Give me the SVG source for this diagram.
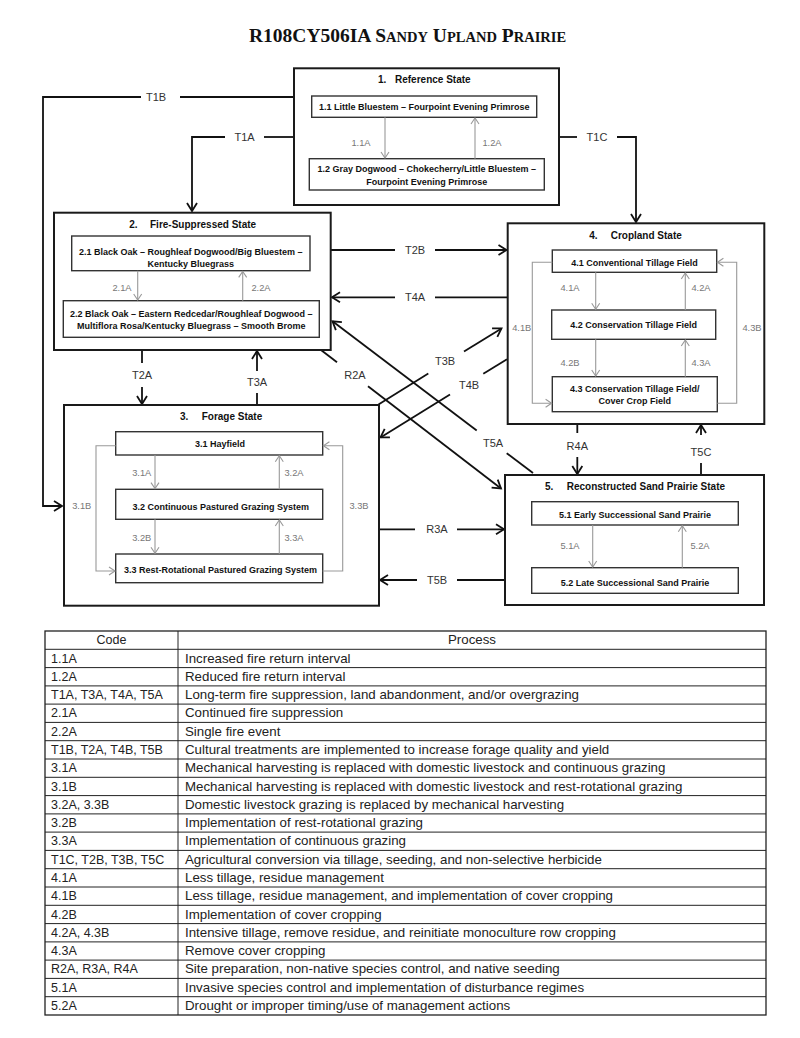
<svg xmlns="http://www.w3.org/2000/svg" width="800" height="1038" viewBox="0 0 800 1038">
<defs>
<style>
.st{fill:#fff;stroke:#1a1a1a;stroke-width:2}
.bx{fill:#fff;stroke:#333;stroke-width:1.4}
.tt{font-family:"Liberation Sans",Arial,sans-serif;font-weight:bold;font-size:10px;fill:#111}
.bt{font-family:"Liberation Sans",Arial,sans-serif;font-weight:bold;font-size:9px;fill:#111;text-anchor:middle}
.cn{fill:none;stroke:#111;stroke-width:1.8}
.cg{fill:none;stroke:#999;stroke-width:1.1}
.cl{font-family:"Liberation Sans",Arial,sans-serif;font-size:11px;fill:#333;text-anchor:middle;dominant-baseline:central}
.gl{font-family:"Liberation Sans",Arial,sans-serif;font-size:9.3px;fill:#777;text-anchor:middle;dominant-baseline:central}
.tb{font-family:"Liberation Sans",Arial,sans-serif;font-size:13.3px;fill:#222}
.tc{font-family:"Liberation Sans",Arial,sans-serif;font-size:12.5px;fill:#222}
.tl{stroke:#222;stroke-width:1}
</style>
<marker id="ah" viewBox="-10 -7 12 14" refX="0" refY="0" markerWidth="12" markerHeight="14" markerUnits="userSpaceOnUse" orient="auto">
<path d="M-8,-5 L0,0 L-8,5" fill="none" stroke="#111" stroke-width="1.8"/>
</marker>
<marker id="ag" viewBox="-8 -5 10 10" refX="0" refY="0" markerWidth="10" markerHeight="10" markerUnits="userSpaceOnUse" orient="auto">
<path d="M-6,-4 L0,0 L-6,4" fill="none" stroke="#999" stroke-width="1.1"/>
</marker>
</defs>
<rect x="0" y="0" width="800" height="1038" fill="#fff"/>

<text x="249" y="42" font-family="'Liberation Serif','Times New Roman',serif" font-weight="bold" font-size="19.5" fill="#111">R108CY506IA <tspan>S</tspan><tspan font-size="14.5">ANDY</tspan> U<tspan font-size="14.5">PLAND</tspan> P<tspan font-size="14.5">RAIRIE</tspan></text>

<g id="connectors">
<!-- T1B -->
<path class="cn" d="M294,97 H180"/>
<path class="cn" d="M141,97 H43 V506 H62" marker-end="url(#ah)"/>
<text class="cl" x="156" y="97">T1B</text>
<!-- T1A -->
<path class="cn" d="M294,137 H264"/>
<path class="cn" d="M225,137 H192 V211" marker-end="url(#ah)"/>
<text class="cl" x="244.5" y="137">T1A</text>
<!-- T1C -->
<path class="cn" d="M559,137 H577"/>
<path class="cn" d="M617,137 H636 V222" marker-end="url(#ah)"/>
<text class="cl" x="597" y="137">T1C</text>
<!-- T2B -->
<path class="cn" d="M331,250 H395"/>
<path class="cn" d="M435,250 H506.5" marker-end="url(#ah)"/>
<text class="cl" x="415" y="250">T2B</text>
<!-- T4A -->
<path class="cn" d="M508,297.3 H435"/>
<path class="cn" d="M395,297.3 H332" marker-end="url(#ah)"/>
<text class="cl" x="415" y="297.3">T4A</text>
<!-- T2A -->
<path class="cn" d="M142,350 V363"/>
<path class="cn" d="M142,387 V404" marker-end="url(#ah)"/>
<text class="cl" x="142" y="375">T2A</text>
<!-- T3A -->
<path class="cn" d="M257,405 V393"/>
<path class="cn" d="M257,371 V351" marker-end="url(#ah)"/>
<text class="cl" x="257" y="382">T3A</text>
<!-- R2A -->
<path class="cn" d="M321,350 L337,362.2"/>
<path class="cn" d="M368,386.2 L501,488.5" marker-end="url(#ah)"/>
<text class="cl" x="355" y="375">R2A</text>
<!-- T5A -->
<path class="cn" d="M533,473 L506.7,453.2"/>
<path class="cn" d="M476.7,430.5 L332.5,321.3" marker-end="url(#ah)"/>
<text class="cl" x="493" y="443">T5A</text>
<!-- T3B -->
<path class="cn" d="M378.5,404.5 L428.3,373.5"/>
<path class="cn" d="M464,351.5 L501.5,328.4" marker-end="url(#ah)"/>
<text class="cl" x="445" y="361">T3B</text>
<!-- T4B -->
<path class="cn" d="M507,359.3 L483.3,373.8"/>
<path class="cn" d="M450,394.4 L380.5,437.4" marker-end="url(#ah)"/>
<text class="cl" x="469" y="385">T4B</text>
<!-- R3A -->
<path class="cn" d="M379,529.3 H415"/>
<path class="cn" d="M457,529.3 H504" marker-end="url(#ah)"/>
<text class="cl" x="437" y="529.3">R3A</text>
<!-- T5B -->
<path class="cn" d="M505,580 H457"/>
<path class="cn" d="M417,580 H380" marker-end="url(#ah)"/>
<text class="cl" x="437" y="580">T5B</text>
<!-- R4A -->
<path class="cn" d="M577.3,424 V433"/>
<path class="cn" d="M577.3,457 V474" marker-end="url(#ah)"/>
<text class="cl" x="577.3" y="446">R4A</text>
<!-- T5C -->
<path class="cn" d="M701,475 V463"/>
<path class="cn" d="M701,435 V425" marker-end="url(#ah)"/>
<text class="cl" x="701" y="451.7">T5C</text>
</g>

<g id="state1">
<rect class="st" x="294" y="68.3" width="265" height="136.7"/>
<text class="tt" x="378" y="82.6">1.</text>
<text class="tt" x="395" y="82.6">Reference State</text>
<g id="s1-1"><rect class="bx" x="311.7" y="96" width="225" height="21.3"/>
<text class="bt" x="424.2" y="110">1.1 Little Bluestem – Fourpoint Evening Primrose</text></g>
<g id="s1-2"><rect class="bx" x="309.3" y="158.7" width="235" height="31.3"/>
<text class="bt" x="426.8" y="172.2">1.2 Gray Dogwood – Chokecherry/Little Bluestem –</text>
<text class="bt" x="426.8" y="184.9">Fourpoint Evening Primrose</text></g>
</g>

<g id="state2">
<rect class="st" x="54" y="212.7" width="276.7" height="137.3"/>
<text class="tt" x="129.3" y="227.6">2.</text>
<text class="tt" x="150" y="227.6">Fire-Suppressed State</text>
<g id="s2-1"><rect class="bx" x="71.7" y="236" width="238.3" height="34.7"/>
<text class="bt" x="190.8" y="254.9">2.1  Black Oak – Roughleaf Dogwood/Big Bluestem –</text>
<text class="bt" x="190.8" y="266.5">Kentucky Bluegrass</text></g>
<g id="s2-2"><rect class="bx" x="63.3" y="300.7" width="256" height="36.6"/>
<text class="bt" x="191.3" y="316.5">2.2  Black Oak – Eastern Redcedar/Roughleaf Dogwood –</text>
<text class="bt" x="191.3" y="329.2">Multiflora Rosa/Kentucky Bluegrass – Smooth Brome</text></g>
</g>

<g id="state3">
<rect class="st" x="64" y="405" width="315" height="200.7"/>
<text class="tt" x="180" y="420.3">3.</text>
<text class="tt" x="201.7" y="420.3">Forage State</text>
<g id="s3-1"><rect class="bx" x="115.7" y="431.7" width="207" height="23.3"/>
<text class="bt" x="220" y="446.5">3.1 Hayfield</text></g>
<g id="s3-2"><rect class="bx" x="115.7" y="489.3" width="207" height="30"/>
<text class="bt" x="220.7" y="509.9">3.2 Continuous Pastured Grazing System</text></g>
<g id="s3-3"><rect class="bx" x="115.7" y="554" width="207" height="28.7"/>
<text class="bt" x="220.5" y="572.5">3.3 Rest-Rotational Pastured Grazing System</text></g>
</g>

<g id="state4">
<rect class="st" x="507.7" y="223.3" width="256.6" height="200.7"/>
<text class="tt" x="589.3" y="238.6">4.</text>
<text class="tt" x="610.7" y="238.6">Cropland State</text>
<g id="s4-1"><rect class="bx" x="552.3" y="250" width="164.4" height="22.3"/>
<text class="bt" x="634.5" y="265.5">4.1 Conventional Tillage Field</text></g>
<g id="s4-2"><rect class="bx" x="551.7" y="310" width="164" height="29.3"/>
<text class="bt" x="633.7" y="328.2">4.2 Conservation Tillage Field</text></g>
<g id="s4-3"><rect class="bx" x="552.3" y="376.7" width="165" height="35"/>
<text class="bt" x="634.8" y="391.5">4.3 Conservation Tillage Field/</text>
<text class="bt" x="634.8" y="403.9">Cover Crop Field</text></g>
</g>

<g id="state5">
<rect class="st" x="505" y="475" width="259" height="130"/>
<text class="tt" x="545" y="490.3">5.</text>
<text class="tt" x="566.7" y="490.3">Reconstructed Sand Prairie State</text>
<g id="s5-1"><rect class="bx" x="531.7" y="501.7" width="206.6" height="23.3"/>
<text class="bt" x="635" y="517.5">5.1 Early Successional Sand Prairie</text></g>
<g id="s5-2"><rect class="bx" x="531.7" y="567.7" width="206.6" height="25.6"/>
<text class="bt" x="635" y="585.5">5.2 Late Successional Sand Prairie</text></g>
</g>

<g id="inner-connectors">
<path class="cg" d="M385,117.3 V158" marker-end="url(#ag)"/><text class="gl" x="361" y="143">1.1A</text>
<path class="cg" d="M475,158.7 V118" marker-end="url(#ag)"/><text class="gl" x="492" y="143">1.2A</text>
<path class="cg" d="M137.7,270.7 V300" marker-end="url(#ag)"/><text class="gl" x="122" y="288">2.1A</text>
<path class="cg" d="M242.7,300.7 V271.4" marker-end="url(#ag)"/><text class="gl" x="261" y="288">2.2A</text>
<path class="cg" d="M155,455 V488.6" marker-end="url(#ag)"/><text class="gl" x="141.7" y="473">3.1A</text>
<path class="cg" d="M279.3,489.3 V455.7" marker-end="url(#ag)"/><text class="gl" x="294" y="473">3.2A</text>
<path class="cg" d="M155,519.3 V553.3" marker-end="url(#ag)"/><text class="gl" x="141.7" y="538">3.2B</text>
<path class="cg" d="M279.3,554 V520" marker-end="url(#ag)"/><text class="gl" x="294" y="538">3.3A</text>
<path class="cg" d="M115.7,445.7 H96 V571 H115" marker-end="url(#ag)"/><text class="gl" x="81.7" y="506">3.1B</text>
<path class="cg" d="M322.7,571 H342.7 V445.7 H323.4" marker-end="url(#ag)"/><text class="gl" x="359" y="506">3.3B</text>
<path class="cg" d="M595.7,272.3 V309.3" marker-end="url(#ag)"/><text class="gl" x="570" y="288">4.1A</text>
<path class="cg" d="M685.3,310 V273" marker-end="url(#ag)"/><text class="gl" x="701" y="288">4.2A</text>
<path class="cg" d="M595.7,339.3 V376" marker-end="url(#ag)"/><text class="gl" x="570" y="363">4.2B</text>
<path class="cg" d="M685.3,376.7 V340" marker-end="url(#ag)"/><text class="gl" x="701" y="363">4.3A</text>
<path class="cg" d="M552.3,262.3 H532.3 V403.3 H551.6" marker-end="url(#ag)"/><text class="gl" x="521.7" y="328">4.1B</text>
<path class="cg" d="M717.3,403.3 H736.7 V262.3 H717.4" marker-end="url(#ag)"/><text class="gl" x="752" y="328">4.3B</text>
<path class="cg" d="M592.7,525 V567" marker-end="url(#ag)"/><text class="gl" x="570" y="546">5.1A</text>
<path class="cg" d="M682.3,567.7 V525.7" marker-end="url(#ag)"/><text class="gl" x="700" y="546">5.2A</text>
</g>

<g id="table">
<rect x="45" y="631" width="721" height="384" fill="none" stroke="#222" stroke-width="1.3"/>
<line class="tl" x1="178" y1="631" x2="178" y2="1015"/>
<line class="tl" x1="45" y1="649.3" x2="766" y2="649.3"/>
<line class="tl" x1="45" y1="667.6" x2="766" y2="667.6"/>
<line class="tl" x1="45" y1="685.9" x2="766" y2="685.9"/>
<line class="tl" x1="45" y1="704.1" x2="766" y2="704.1"/>
<line class="tl" x1="45" y1="722.4" x2="766" y2="722.4"/>
<line class="tl" x1="45" y1="740.7" x2="766" y2="740.7"/>
<line class="tl" x1="45" y1="759" x2="766" y2="759"/>
<line class="tl" x1="45" y1="777.3" x2="766" y2="777.3"/>
<line class="tl" x1="45" y1="795.6" x2="766" y2="795.6"/>
<line class="tl" x1="45" y1="813.9" x2="766" y2="813.9"/>
<line class="tl" x1="45" y1="832.1" x2="766" y2="832.1"/>
<line class="tl" x1="45" y1="850.4" x2="766" y2="850.4"/>
<line class="tl" x1="45" y1="868.7" x2="766" y2="868.7"/>
<line class="tl" x1="45" y1="887" x2="766" y2="887"/>
<line class="tl" x1="45" y1="905.3" x2="766" y2="905.3"/>
<line class="tl" x1="45" y1="923.6" x2="766" y2="923.6"/>
<line class="tl" x1="45" y1="941.9" x2="766" y2="941.9"/>
<line class="tl" x1="45" y1="960.1" x2="766" y2="960.1"/>
<line class="tl" x1="45" y1="978.4" x2="766" y2="978.4"/>
<line class="tl" x1="45" y1="996.7" x2="766" y2="996.7"/>
<text class="tc" x="111.5" y="644.3" text-anchor="middle">Code</text>
<text class="tb" x="472" y="644.3" text-anchor="middle">Process</text>
<g class="tc">
<text x="51" y="662.6">1.1A</text>
<text x="51" y="680.9">1.2A</text>
<text x="51" y="699.2">T1A, T3A, T4A, T5A</text>
<text x="51" y="717.4">2.1A</text>
<text x="51" y="735.7">2.2A</text>
<text x="51" y="754">T1B, T2A, T4B, T5B</text>
<text x="51" y="772.3">3.1A</text>
<text x="51" y="790.6">3.1B</text>
<text x="51" y="808.9">3.2A, 3.3B</text>
<text x="51" y="827.2">3.2B</text>
<text x="51" y="845.4">3.3A</text>
<text x="51" y="863.7">T1C, T2B, T3B, T5C</text>
<text x="51" y="882">4.1A</text>
<text x="51" y="900.3">4.1B</text>
<text x="51" y="918.6">4.2B</text>
<text x="51" y="936.9">4.2A, 4.3B</text>
<text x="51" y="955.2">4.3A</text>
<text x="51" y="973.4">R2A, R3A, R4A</text>
<text x="51" y="991.7">5.1A</text>
<text x="51" y="1010">5.2A</text>
</g>
<g class="tb">
<text x="185" y="662.6">Increased fire return interval</text>
<text x="185" y="680.9">Reduced fire return interval</text>
<text x="185" y="699.2">Long-term fire suppression, land abandonment, and/or overgrazing</text>
<text x="185" y="717.4">Continued fire suppression</text>
<text x="185" y="735.7">Single fire event</text>
<text x="185" y="754">Cultural treatments are implemented to increase forage quality and yield</text>
<text x="185" y="772.3">Mechanical harvesting is replaced with domestic livestock and continuous grazing</text>
<text x="185" y="790.6">Mechanical harvesting is replaced with domestic livestock and rest-rotational grazing</text>
<text x="185" y="808.9">Domestic livestock grazing is replaced by mechanical harvesting</text>
<text x="185" y="827.2">Implementation of rest-rotational grazing</text>
<text x="185" y="845.4">Implementation of continuous grazing</text>
<text x="185" y="863.7">Agricultural conversion via tillage, seeding, and non-selective herbicide</text>
<text x="185" y="882">Less tillage, residue management</text>
<text x="185" y="900.3">Less tillage, residue management, and implementation of cover cropping</text>
<text x="185" y="918.6">Implementation of cover cropping</text>
<text x="185" y="936.9">Intensive tillage, remove residue, and reinitiate monoculture row cropping</text>
<text x="185" y="955.2">Remove cover cropping</text>
<text x="185" y="973.4">Site preparation, non-native species control, and native seeding</text>
<text x="185" y="991.7">Invasive species control and implementation of disturbance regimes</text>
<text x="185" y="1010">Drought or improper timing/use of management actions</text>
</g>
</g>
</svg>
